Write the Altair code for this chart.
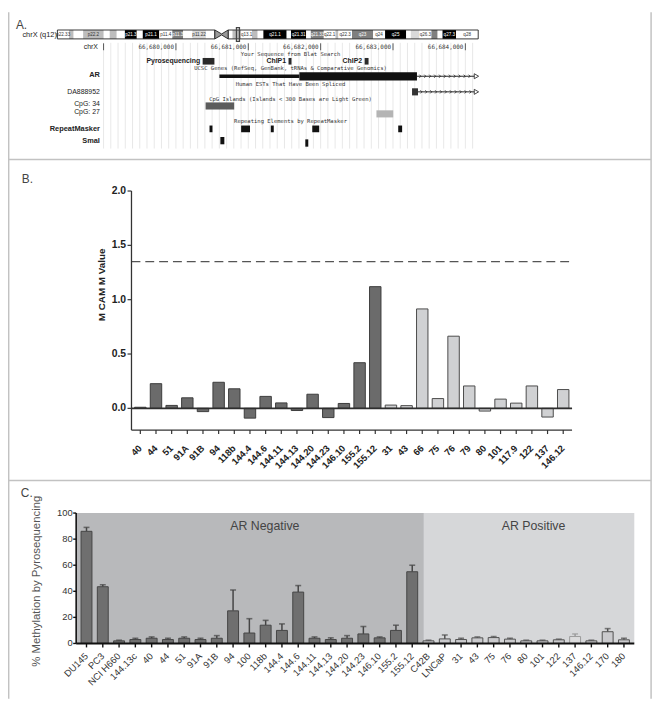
import altair as alt
import pandas as pd

# ============================ DATA ============================
# --- Panel A: chrX ideogram (hg19 cytobands, Mb) ---
band_names = ["p22.33", "p22.32", "p22.31", "p22.2", "p22.13", "p22.12", "p22.11", "p21.3", "p21.2", "p21.1",
              "p11.4", "p11.3", "p11.23", "p11.22", "p11.21", "p11.1", "q11.1", "q11.2", "q12", "q13.1",
              "q13.2", "q13.3", "q21.1", "q21.2", "q21.31", "q21.32", "q21.33", "q22.1", "q22.2", "q22.3",
              "q23", "q24", "q25", "q26.1", "q26.2", "q26.3", "q27.1", "q27.2", "q27.3", "q28"]
band_start = [0.0, 4.3, 6.0, 9.5, 17.1, 19.3, 21.9, 24.9, 29.3, 31.5,
              37.6, 42.4, 46.4, 49.8, 54.8, 58.1, 60.6, 63.0, 64.6, 67.8,
              71.8, 73.9, 76.0, 84.6, 86.2, 91.8, 93.5, 98.3, 102.6, 103.7,
              108.7, 116.5, 120.9, 128.7, 130.4, 133.6, 138.0, 140.3, 142.1, 147.1]
chrom_length = 155.27
band_end = band_start[1:] + [chrom_length]
band_stain = ["gneg", "gpos50", "gneg", "gpos50", "gneg", "gpos50", "gneg", "gpos100", "gneg", "gpos100",
              "gneg", "gpos75", "gneg", "gpos25", "gneg", "acen", "acen", "gneg", "gpos50", "gneg",
              "gpos50", "gneg", "gpos100", "gneg", "gpos100", "gneg", "gpos75", "gneg", "gpos50", "gneg",
              "gpos75", "gneg", "gpos100", "gneg", "gpos25", "gneg", "gpos75", "gneg", "gpos100", "gneg"]
view_mb = [66.07, 67.17]

# --- Panel A: genome browser tracks (chrX bp) ---
ruler_ticks = [66679000, 66680000, 66681000, 66682000, 66683000, 66684000]
blat_names = ["Pyrosequencing", "ChIP1", "ChIP2"]
blat_start = [66680369, 66681556, 66682608]
blat_end = [66680532, 66681597, 66682662]
ar_utr = [66680601, 66681706]
ar_cds = [66681706, 66683331]
ar_tail_end = 66684123
est_exon = [66683263, 66683345]
cpg_names = ["CpG: 34", "CpG: 27"]
cpg_start = [66680410, 66682771]
cpg_end = [66680805, 66683003]
rmsk_start = [66680464, 66680901, 66681311, 66681884, 66683072]
rmsk_end = [66680505, 66681024, 66681352, 66681980, 66683126]
smai_start = [66680614, 66681788]
smai_end = [66680669, 66681829]

# --- Panel B: MCAM M value ---
b_labels = ["40", "44", "51", "91A", "91B", "94", "118b", "144.4", "144.6", "144.11", "144.13", "144.20",
            "144.23", "146.10", "155.2", "155.12", "31", "43", "66", "75", "76", "79", "80", "101",
            "117.9", "122", "137", "146.12"]
b_values = [0.01, 0.227, 0.027, 0.097, -0.03, 0.24, 0.18, -0.09, 0.11, 0.05, -0.02, 0.13,
            -0.085, 0.045, 0.42, 1.12, 0.03, 0.025, 0.915, 0.09, 0.664, 0.206, -0.025, 0.085,
            0.048, 0.206, -0.08, 0.173]
b_status = ["AR negative"] * 16 + ["AR positive"] * 12
b_cutoff = 1.35
b_ydomain = [-0.2, 2.0]
b_yticks = [0.0, 0.5, 1.0, 1.5, 2.0]

# --- Panel C: % methylation by pyrosequencing ---
c_labels = ["DU145", "PC3", "NCI H660", "144.13c", "40", "44", "51", "91A", "91B", "94", "100", "118b",
            "144.4", "144.6", "144.11", "144.13", "144.20", "144.23", "146.10", "155.2", "155.12",
            "C42B", "LNCaP", "31", "43", "75", "76", "80", "101", "122", "137", "146.12", "170", "180"]
c_mean = [86, 43.5, 2, 3, 4, 3, 4, 3, 4, 25, 8, 14,
          10, 39.4, 4, 3, 4, 7.3, 4.3, 10, 55,
          2, 3.5, 3, 4.3, 4.5, 3.3, 2, 2, 2.8, 5.3, 2, 9, 2.8]
c_sd = [3, 1.5, 0.5, 1, 1, 1, 1, 1, 2, 16, 11, 3.7,
        5, 5, 1, 1.3, 2, 5.7, 0.7, 4, 5,
        0.5, 3, 1, 0.7, 0.8, 0.7, 0.5, 0.5, 0.5, 2, 0.5, 2.4, 1.2]
c_status = ["AR negative"] * 21 + ["AR positive"] * 13
c_ydomain = [0, 100]
c_yticks = [0, 20, 40, 60, 80, 100]

# ============================ LAYOUT ============================
FONT = "Liberation Sans"
MONO = "DejaVu Sans Mono"
W, H, M = 658, 695, 8
PX = alt.Scale(domain=[M, M + W], range=[0, W], zero=False, nice=False)
PY = alt.Scale(domain=[M, M + H], range=[0, H], zero=False, nice=False)


def pxtext(items, **kw):
    df = pd.DataFrame(items, columns=["t", "x", "y"])
    return alt.Chart(df).mark_text(**kw).encode(
        x=alt.X("x:Q", scale=PX, axis=None), y=alt.Y("y:Q", scale=PY, axis=None), text="t:N")


def pxrule(items, **kw):
    df = pd.DataFrame(items, columns=["x", "y", "x2", "y2"])
    return alt.Chart(df).mark_rule(**kw).encode(
        x=alt.X("x:Q", scale=PX, axis=None), y=alt.Y("y:Q", scale=PY, axis=None), x2="x2:Q", y2="y2:Q")


def pxrect(items, **kw):
    df = pd.DataFrame(items, columns=["x", "y", "x2", "y2"])
    return alt.Chart(df).mark_rect(**kw).encode(
        x=alt.X("x:Q", scale=PX, axis=None), y=alt.Y("y:Q", scale=PY, axis=None), x2="x2:Q", y2="y2:Q")


# ---------- background: frame, separators, panel C shading ----------
background = alt.layer(
    pxrect([(77, 515, 429, 647)], color="#b8b9bb"),
    pxrect([(429, 515, 642, 647)], color="#d6d7d9"),
    pxrule([(8, 157, 659, 157), (8, 482, 659, 482)], color="#c2c2c2", strokeWidth=1.5),
    pxrule([(8.7, 8, 8.7, 703), (659, 8, 659, 703)], color="#c2c2c2", strokeWidth=1.5),
)

# ---------- ideogram ----------
IDEO = alt.Scale(domain=[0, chrom_length], range=[50, 476], zero=False, nice=False)
stain_fill = {"gneg": "#ffffff", "gpos25": "#d9d9d9", "gpos50": "#bdbdbd", "gpos75": "#7f7f7f",
              "gpos100": "#000000", "acen": "#8c8c8c"}
ideo_df = pd.DataFrame({"name": band_names, "s": band_start, "e": band_end, "stain": band_stain})
ideo_df["fill"] = ideo_df["stain"].map(stain_fill)
ideo_df["tcol"] = ideo_df["stain"].map(lambda s: "#ffffff" if s in ("gpos75", "gpos100") else "#333333")
ideo_df["mid"] = (ideo_df["s"] + ideo_df["e"]) / 2
ideo_df["y0"] = 26.0
ideo_df["y1"] = 35.0
ideo_df["ym"] = 30.7
arm_bands = ideo_df[ideo_df["stain"] != "acen"]
lab_bands = arm_bands[(arm_bands["e"] - arm_bands["s"]) > 3.6]
cen = ideo_df[ideo_df["stain"] == "acen"]
cen_df = pd.DataFrame({"x": [cen["s"].min(), cen["e"].iloc[0], cen["e"].max()],
                       "y0": [26.0, 30.0, 26.0], "y1": [35.0, 31.0, 35.0]})
arms_df = pd.DataFrame({"s": [0.0, cen["e"].max()], "e": [cen["s"].min(), chrom_length],
                        "y0": [26.0, 26.0], "y1": [35.0, 35.0]})
mark_df = pd.DataFrame({"s": [view_mb[0]], "e": [view_mb[1]], "y0": [23.5], "y1": [37.5]})


def ienc(ch):
    return ch.encode(x=alt.X("s:Q", scale=IDEO, axis=None), x2="e:Q",
                     y=alt.Y("y0:Q", scale=PY, axis=None), y2="y1:Q")


ideogram = alt.layer(
    ienc(alt.Chart(arm_bands).mark_rect()).encode(fill=alt.Fill("fill:N", scale=None)),
    ienc(alt.Chart(arms_df).mark_rect(fillOpacity=0, stroke="#222", strokeWidth=0.9)),
    alt.Chart(cen_df).mark_area(fill="#9a9a9a", stroke="#222", strokeWidth=0.9).encode(
        x=alt.X("x:Q", scale=IDEO, axis=None), y=alt.Y("y0:Q", scale=PY, axis=None), y2="y1:Q"),
    alt.Chart(lab_bands).mark_text(font=FONT, fontSize=4.6).encode(
        x=alt.X("mid:Q", scale=IDEO, axis=None), y=alt.Y("ym:Q", scale=PY, axis=None),
        text="name:N", color=alt.Color("tcol:N", scale=None)),
    ienc(alt.Chart(mark_df).mark_rect(fillOpacity=0, stroke="#444", strokeWidth=1.3)),
)

# ---------- genome tracks ----------
G = alt.Scale(domain=[66680000, 66684000], range=[170, 463], zero=False, nice=False)


def genc(ch):
    return ch.encode(x=alt.X("s:Q", scale=G, axis=None), x2="e:Q",
                     y=alt.Y("y0:Q", scale=PY, axis=None), y2="y1:Q")


def gvert(ch):
    return ch.encode(x=alt.X("s:Q", scale=G, axis=None),
                     y=alt.Y("y0:Q", scale=PY, axis=None), y2="y1:Q")


grid_pos = list(range(ruler_ticks[0], ruler_ticks[-1] + 101, 100))
grid_df = pd.DataFrame({"s": grid_pos, "y0": 39.0, "y1": 146.0})
tick_df = pd.DataFrame({"s": ruler_ticks, "y0": 39.5, "y1": 46.5})
tlab_df = pd.DataFrame({"s": ruler_ticks[1:], "t": [f"{v:,}" for v in ruler_ticks[1:]], "y": 43.5})
blat_df = pd.DataFrame({"name": blat_names, "s": blat_start, "e": blat_end, "y0": 54.3, "y1": 61.0, "ym": 57.8})
utr_df = pd.DataFrame({"s": [ar_utr[0]], "e": [ar_utr[1]], "y0": [71.0], "y1": [74.6]})
cds_df = pd.DataFrame({"s": [ar_cds[0]], "e": [ar_cds[1]], "y0": [68.8], "y1": [77.0]})
tails_df = pd.DataFrame({"s": [ar_cds[1], est_exon[1]], "e": [ar_tail_end, ar_tail_end],
                         "y0": [72.8, 88.6], "y1": [72.8, 88.6]})
est_df = pd.DataFrame({"s": [est_exon[0]], "e": [est_exon[1]], "y0": [85.0], "y1": [92.2]})
chev = []
for row_y, start in ((72.8, ar_cds[1]), (88.6, est_exon[1])):
    p = start + 55
    while p < ar_tail_end - 20:
        chev.append((p, row_y))
        p += 68
chev_df = pd.DataFrame(chev, columns=["s", "y"])
endtri_df = pd.DataFrame({"s": [ar_tail_end + 30, ar_tail_end + 30], "y": [72.8, 88.6]})
cpg_df = pd.DataFrame({"name": cpg_names, "s": cpg_start, "e": cpg_end})
cpg_df["fill"] = ["#b4b4b4" if (e - s) < 300 else "#5c5c5c" for s, e in zip(cpg_start, cpg_end)]
cpg_df["y0"] = [99.3 + 8.0 * i for i in range(len(cpg_df))]
cpg_df["y1"] = cpg_df["y0"] + 7.2
rmsk_df = pd.DataFrame({"s": rmsk_start, "e": rmsk_end, "y0": 122.7, "y1": 129.5})
smai_df = pd.DataFrame({"s": smai_start, "e": smai_end})
smai_df["y0"] = [134.3 + 2.4 * i for i in range(len(smai_df))]
smai_df["y1"] = smai_df["y0"] + 7.4

genome = alt.layer(
    gvert(alt.Chart(grid_df).mark_rule(color="#dedede", strokeWidth=0.7)),
    gvert(alt.Chart(tick_df).mark_rule(color="#333", strokeWidth=0.8)),
    alt.Chart(tlab_df).mark_text(font=MONO, fontSize=6.0, align="right", dx=-2, color="#333").encode(
        x=alt.X("s:Q", scale=G, axis=None), y=alt.Y("y:Q", scale=PY, axis=None), text="t:N"),
    genc(alt.Chart(blat_df).mark_rect(color="#2a2a2a")),
    alt.Chart(blat_df).mark_text(font=FONT, fontSize=7, fontWeight="bold", align="right", dx=-2.5,
                                 color="#222").encode(
        x=alt.X("s:Q", scale=G, axis=None), y=alt.Y("ym:Q", scale=PY, axis=None), text="name:N"),
    genc(alt.Chart(tails_df).mark_rule(color="#222", strokeWidth=1)),
    alt.Chart(chev_df).mark_point(shape="M -1 -1 L 0 0 L -1 1", filled=False, size=10, color="#222",
                                  strokeWidth=0.8, opacity=1).encode(
        x=alt.X("s:Q", scale=G, axis=None), y=alt.Y("y:Q", scale=PY, axis=None)),
    alt.Chart(endtri_df).mark_point(shape="triangle-right", filled=False, size=26, color="#333",
                                    strokeWidth=0.9, opacity=1).encode(
        x=alt.X("s:Q", scale=G, axis=None), y=alt.Y("y:Q", scale=PY, axis=None)),
    genc(alt.Chart(utr_df).mark_rect(color="#111")),
    genc(alt.Chart(cds_df).mark_rect(color="#111")),
    genc(alt.Chart(est_df).mark_rect(color="#333")),
    genc(alt.Chart(cpg_df).mark_rect()).encode(fill=alt.Fill("fill:N", scale=None)),
    genc(alt.Chart(rmsk_df).mark_rect(color="#111")),
    genc(alt.Chart(smai_df).mark_rect(color="#111")),
)

# ---------- Panel B ----------
B_X0, B_X1 = 125, 571          # plot extent (chart px)
b_fill = {"AR negative": "#6b6b6b", "AR positive": "#d0d1d3"}
b_stroke = {"AR negative": "#3c3c3c", "AR positive": "#4a4a4a"}
b_df = pd.DataFrame({"label": b_labels, "value": b_values, "status": b_status})
b_df["fill"] = b_df["status"].map(b_fill)
b_df["stroke"] = b_df["status"].map(b_stroke)
b_df["base"] = b_ydomain[0]
bX = alt.Scale(domain=b_labels, range=[B_X0, B_X1], paddingInner=0.27, paddingOuter=0.2)
bY = alt.Scale(domain=b_ydomain, range=[423, 181], zero=False, nice=False)
b_tick_df = pd.DataFrame({"v": b_yticks, "t": [f"{v:.1f}" for v in b_yticks]})
b_dom_df = pd.DataFrame({"v0": [b_ydomain[0]], "v1": [b_ydomain[1]]})
AXC = "#333"
panel_b = alt.layer(
    alt.Chart(b_df).mark_bar(strokeWidth=1).encode(
        x=alt.X("label:N", scale=bX, axis=None),
        y=alt.Y("value:Q", scale=bY, axis=None), y2=alt.datum(0),
        fill=alt.Fill("fill:N", scale=None), stroke=alt.Stroke("stroke:N", scale=None)),
    alt.Chart(pd.DataFrame({"v": [0.0]})).mark_rule(color="#2e2e2e", strokeWidth=1.6).encode(
        y=alt.Y("v:Q", scale=bY, axis=None), x=alt.value(B_X0), x2=alt.value(B_X1)),
    alt.Chart(pd.DataFrame({"v": [b_cutoff]})).mark_rule(color="#555", strokeWidth=1.3,
                                                         strokeDash=[9, 5]).encode(
        y=alt.Y("v:Q", scale=bY, axis=None), x=alt.value(B_X0), x2=alt.value(B_X1)),
    # y axis
    alt.Chart(b_dom_df).mark_rule(color=AXC, strokeWidth=1.3).encode(
        y=alt.Y("v0:Q", scale=bY, axis=None), y2="v1:Q", x=alt.value(B_X0)),
    alt.Chart(b_tick_df).mark_rule(color=AXC, strokeWidth=1.2).encode(
        y=alt.Y("v:Q", scale=bY, axis=None), x=alt.value(B_X0 - 4), x2=alt.value(B_X0)),
    alt.Chart(b_tick_df).mark_text(font=FONT, fontSize=10.5, fontWeight="bold", align="right",
                                   baseline="middle", color="#222").encode(
        y=alt.Y("v:Q", scale=bY, axis=None), x=alt.value(B_X0 - 5.5), text="t:N"),
    # x axis
    alt.Chart(b_dom_df).mark_rule(color=AXC, strokeWidth=1.3).encode(
        y=alt.Y("v0:Q", scale=bY, axis=None), x=alt.value(B_X0), x2=alt.value(B_X1)),
    alt.Chart(b_df).mark_rule(color=AXC, strokeWidth=1.2).encode(
        x=alt.X("label:N", scale=bX, axis=None), y=alt.Y("base:Q", scale=bY, axis=None),
        y2=alt.value(427)),
    alt.Chart(b_df).mark_text(font=FONT, fontSize=9.5, fontWeight="bold", align="right",
                              baseline="middle", angle=315, color="#222").encode(
        x=alt.X("label:N", scale=bX, axis=None), y=alt.value(440), text="label:N"),
)

# ---------- Panel C ----------
C_X0, C_X1 = 69, 634
faint_samples = {"137"}          # drawn paler in the original figure
c_fill = {"AR negative": "#6f6f6f", "AR positive": "#cacacd"}
c_stroke = {"AR negative": "#454545", "AR positive": "#505050"}
c_df = pd.DataFrame({"label": c_labels, "mean": c_mean, "sd": c_sd, "status": c_status})
c_df["upper"] = c_df["mean"] + c_df["sd"]
c_df["fill"] = [("#dcdcdd" if l in faint_samples else c_fill[s]) for l, s in zip(c_labels, c_status)]
c_df["stroke"] = [("#9a9a9a" if l in faint_samples else c_stroke[s]) for l, s in zip(c_labels, c_status)]
c_df["base"] = c_ydomain[0]
cX = alt.Scale(domain=c_labels, range=[C_X0, C_X1], paddingInner=0.33, paddingOuter=0.3)
cY = alt.Scale(domain=c_ydomain, range=[639, 507], zero=False, nice=False)
c_tick_df = pd.DataFrame({"v": c_yticks, "t": [str(v) for v in c_yticks]})
c_dom_df = pd.DataFrame({"v0": [c_ydomain[0]], "v1": [c_ydomain[1]]})
panel_c = alt.layer(
    alt.Chart(c_df).mark_rule(strokeWidth=1.5).encode(
        x=alt.X("label:N", scale=cX, axis=None), y=alt.Y("mean:Q", scale=cY, axis=None), y2="upper:Q",
        stroke=alt.Stroke("stroke:N", scale=None)),
    alt.Chart(c_df).mark_tick(size=6, thickness=1.6).encode(
        x=alt.X("label:N", scale=cX, axis=None), y=alt.Y("upper:Q", scale=cY, axis=None),
        color=alt.Color("stroke:N", scale=None)),
    alt.Chart(c_df).mark_bar(strokeWidth=1).encode(
        x=alt.X("label:N", scale=cX, axis=None),
        y=alt.Y("mean:Q", scale=cY, axis=None), y2=alt.datum(0),
        fill=alt.Fill("fill:N", scale=None), stroke=alt.Stroke("stroke:N", scale=None)),
    # y axis
    alt.Chart(c_dom_df).mark_rule(color="#111", strokeWidth=1.6).encode(
        y=alt.Y("v0:Q", scale=cY, axis=None), y2="v1:Q", x=alt.value(C_X0)),
    alt.Chart(c_tick_df).mark_rule(color="#111", strokeWidth=1.4).encode(
        y=alt.Y("v:Q", scale=cY, axis=None), x=alt.value(C_X0 - 3), x2=alt.value(C_X0)),
    alt.Chart(c_tick_df).mark_text(font=FONT, fontSize=9.5, align="right", baseline="middle",
                                   color="#333").encode(
        y=alt.Y("v:Q", scale=cY, axis=None), x=alt.value(C_X0 - 3.5), text="t:N"),
    # x axis
    alt.Chart(c_dom_df).mark_rule(color="#111", strokeWidth=2).encode(
        y=alt.Y("v0:Q", scale=cY, axis=None), x=alt.value(C_X0), x2=alt.value(C_X1)),
    alt.Chart(c_df).mark_rule(color="#111", strokeWidth=1.4).encode(
        x=alt.X("label:N", scale=cX, axis=None), y=alt.Y("base:Q", scale=cY, axis=None),
        y2=alt.value(643)),
    alt.Chart(c_df).mark_text(font=FONT, fontSize=9.5, align="right", baseline="middle", angle=315,
                              color="#333").encode(
        x=alt.X("label:N", scale=cX, axis=None), y=alt.value(650.5), text="label:N"),
)

# ---------- foreground texts ----------
subtitles = ["Your Sequence from Blat Search",
             "UCSC Genes (RefSeq, GenBank, tRNAs & Comparative Genomics)",
             "Human ESTs That Have Been Spliced",
             "CpG Islands (Islands < 300 Bases are Light Green)",
             "Repeating Elements by RepeatMasker"]
texts = alt.layer(
    pxtext([("A.", 16, 21), ("B.", 22, 177), ("C.", 21, 495)], font=FONT, fontSize=12, align="left",
           color="#444"),
    pxtext([("chrX (q12)", 57.5, 31)], font=FONT, fontSize=7.5, align="right", color="#222"),
    pxtext([("chrX", 99, 43.5)], font=FONT, fontSize=7, align="right", color="#222"),
    pxtext(list(zip(subtitles, [294] * 5, [50.7, 64.5, 80.7, 95.7, 118.5])), font=MONO, fontSize=5.6,
           color="#333"),
    pxtext([("AR", 101, 72), ("RepeatMasker", 101, 126.5), ("SmaI", 101, 138.5)], font=FONT,
           fontSize=7.5, fontWeight="bold", align="right", color="#222"),
    pxtext([("DA888952", 101, 89), (cpg_names[0], 101, 100.5), (cpg_names[1], 101, 109.5)], font=FONT,
           fontSize=7, align="right", color="#222"),
    pxtext([("M CAM M Value", 103, 284)], font=FONT, fontSize=10, fontWeight="bold", angle=270,
           color="#222"),
    pxtext([("% Methylation by Pyrosequencing", 37, 584)], font=FONT, fontSize=11.5, angle=270,
           color="#555"),
    pxtext([("AR Negative", 268, 528), ("AR Positive", 540, 528)], font=FONT, fontSize=12.5,
           color="#444"),
)

chart = alt.layer(background, ideogram, genome, panel_b, panel_c, texts).resolve_scale(
    x="independent", y="independent"
).properties(
    width=W, height=H, padding=0, autosize=alt.AutoSizeParams(type="none")
).configure_view(stroke=None).configure_axis(grid=False)

chart.save("out.html", embed_options={"renderer": "svg", "actions": False})
